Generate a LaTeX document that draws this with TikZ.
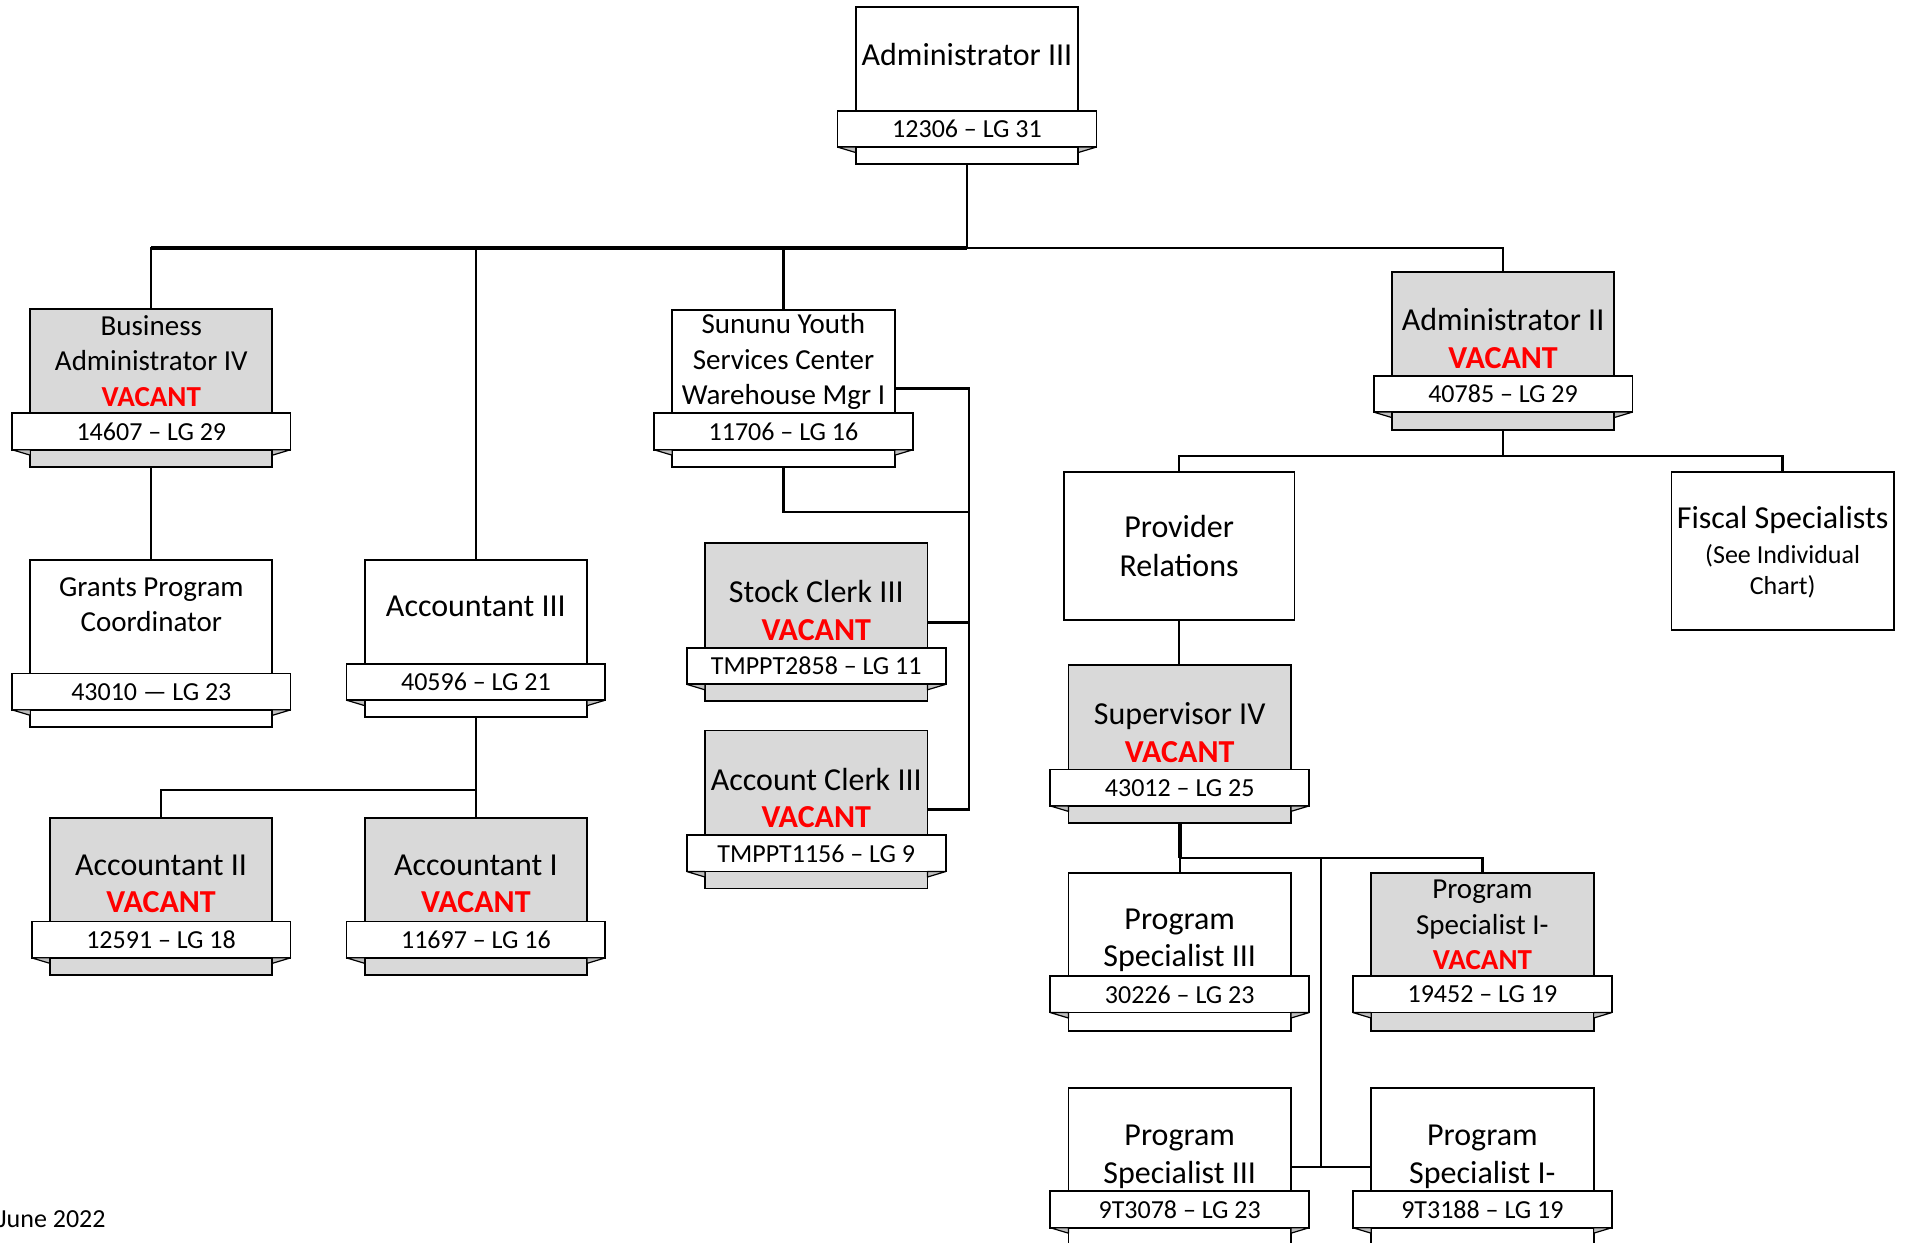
\documentclass[tikz,border=0pt]{standalone}
\usepackage{fontspec}
\setmainfont{Carlito}
\definecolor{boxgray}{HTML}{D9D9D9}
\definecolor{foldgray}{HTML}{BFBFBF}
\definecolor{vacred}{HTML}{FF0000}
\tikzset{
 orgrect/.style={draw=black, line width=1.8pt, inner sep=0pt, outer sep=0pt},
 ribbonbox/.style={draw=black, line width=1.8pt, fill=white, inner sep=0pt, outer sep=0pt, font=\fontsize{26}{31}\selectfont},
 foldtri/.style={draw=black, line width=1.2pt, fill=foldgray, line join=round},
 conn/.style={draw=black, line width=2.3pt},
 busconn/.style={draw=black, line width=3.6pt},
 ttl/.style={align=center, inner sep=0pt, font=\fontsize{32}{37.7}\selectfont},
 ttlsm/.style={align=center, inner sep=0pt, font=\fontsize{29}{35.3}\selectfont},
 smalltxt/.style={align=center, inner sep=0pt, font=\fontsize{26}{31.6}\selectfont},
}
\newcommand\vac{\textcolor{vacred}{\bfseries VACANT}}
\newcommand\OrgBox[8]{%
 \pgfmathsetmacro\obw{(#4-#2)*1.2156}%
 \pgfmathsetmacro\obh{(#5-#3)*1.2156}%
 \pgfmathsetmacro\orw{(#4-#2+30)*1.2156}%
 \node[orgrect, fill=#6, minimum width=\obw pt, minimum height=\obh pt] (#1) at ({(#2+#4)/2},{(#3+#5)/2}) {};
 \node[ribbonbox, minimum width=\orw pt, minimum height=36.47pt] (#1-r) at ({(#2+#4)/2},{#7+15}) {#8};
 \filldraw[foldtri] (#1-r.south west) -- (#1-r.south west -| #1.west) -- ++(0,4.5) -- cycle;
 \filldraw[foldtri] (#1-r.south east) -- (#1-r.south east -| #1.east) -- ++(0,4.5) -- cycle;
}
\begin{document}
\begin{tikzpicture}[x=1.2156pt,y=-1.2156pt]
\useasboundingbox (0,0) rectangle (1568,1022);
\clip (0,0) rectangle (1568,1022);
\fill[white] (0,0) rectangle (1568,1022);

% ---- boxes ----
\OrgBox{a3}{704}{6}{887}{135}{white}{91}{12306 – LG 31}
\node[ttl] (a3-t) at (795.5,45) {Administrator III};

\OrgBox{ba4}{25}{254}{224}{384}{boxgray}{340}{14607 – LG 29}
\node[ttlsm] (ba4-t) at (124.5,297) {Business\\Administrator IV\\\vac};

\OrgBox{gpc}{25}{461}{224}{598}{white}{554}{43010 — LG 23}
\node[ttlsm] (gpc-t) at (124.5,497.5) {Grants Program\\Coordinator};

\OrgBox{acc3}{300}{461}{483}{590}{white}{546}{40596 – LG 21}
\node[ttl] (acc3-t) at (391.5,499) {Accountant III};

\OrgBox{acc2}{41}{673}{224}{802}{boxgray}{758}{12591 – LG 18}
\node[ttl] (acc2-t) at (132.5,727) {Accountant II\\\vac};

\OrgBox{acc1}{300}{673}{483}{802}{boxgray}{758}{11697 – LG 16}
\node[ttl] (acc1-t) at (391.5,727) {Accountant I\\\vac};

\OrgBox{syc}{553}{255}{736}{384}{white}{340}{11706 – LG 16}
\node[ttlsm] (syc-t) at (644.5,297.5) {Sununu Youth\\Services Center\\Warehouse Mgr I};

\OrgBox{sk3}{580}{447}{763}{577}{boxgray}{533}{TMPPT2858 – LG 11}
\node[ttl] (sk3-t) at (671.5,502.5) {Stock Clerk III\\\vac};

\OrgBox{ac3}{580}{601}{763}{731}{boxgray}{687}{TMPPT1156 – LG 9}
\node[ttl] (ac3-t) at (671.5,656.5) {Account Clerk III\\\vac};

\OrgBox{a2}{1145}{224}{1328}{354}{boxgray}{309}{40785 – LG 29}
\node[ttl] (a2-t) at (1236.5,278.5) {Administrator II\\\vac};

\node[orgrect, fill=white, minimum width=230.96pt, minimum height=148.3pt, align=center, font=\fontsize{32}{38.9}\selectfont] (pr) at (970,449) {Provider\\Relations};

\node[orgrect, fill=white, minimum width=222.45pt, minimum height=158.03pt] (fs) at (1466.5,453) {};
\node[ttl] (fs-t1) at (1466.5,428) {Fiscal Specialists};
\node[smalltxt] (fs-t2) at (1466.5,470) {(See Individual\\Chart)};

\OrgBox{sv4}{879}{547}{1062}{677}{boxgray}{633}{43012 – LG 25}
\node[ttl] (sv4-t) at (970.5,602.5) {Supervisor IV\\\vac};

\OrgBox{ps3a}{879}{718}{1062}{848}{white}{803}{30226 – LG 23}
\node[ttl] (ps3a-t) at (970.5,773.5) {Program\\Specialist III};

\OrgBox{ps1a}{1128}{718}{1311}{848}{boxgray}{803}{19452 – LG 19}
\node[ttlsm] (ps1a-t) at (1219.5,761) {Program\\Specialist I-\\\vac};

\OrgBox{ps3b}{879}{895}{1062}{1025}{white}{980}{9T3078 – LG 23}
\node[ttl] (ps3b-t) at (970.5,951.5) {Program\\Specialist III};

\OrgBox{ps1b}{1128}{895}{1311}{1025}{white}{980}{9T3188 – LG 19}
\node[ttl] (ps1b-t) at (1219.5,951.5) {Program\\Specialist I-};

\node[inner sep=0pt, anchor=east, font=\fontsize{26}{31}\selectfont] (date) at (87,1003) {June 2022};

% ---- connectors ----
\coordinate (bus) at (795.5,204);
\draw[conn] (a3.south) -- (bus);
\draw[conn] (ba4.north) |- (bus) -- (a2.north |- bus) -- (a2.north);
\draw[busconn] (ba4.north |- bus) -- (bus);
\draw[conn] (acc3.north) -- (acc3.north |- bus);
\draw[conn] (syc.north) -- (syc.north |- bus);
\draw[conn] (ba4.south) -- (gpc.north);

\coordinate (j1) at (391.5,650);
\draw[conn] (acc3.south) -- (acc1.north);
\draw[conn] (acc2.north) |- (j1);

\coordinate (sv) at (797,666);
\coordinate (sj) at (797,421);
\draw[conn] (syc.east) -| (sv) -- (ac3.east);
\draw[conn] (sk3.east) -- (sk3.east -| sv);
\draw[conn] (syc.south) |- (sj);

\coordinate (j2) at (1236.5,375);
\draw[conn] (a2.south) -- (j2);
\draw[conn] (pr.north) |- (j2) -| (fs.north);
\draw[conn] (pr.south) -- (pr.south |- sv4.north);

\coordinate (j3) at (970.5,706);
\draw[busconn] (sv4.south) -- (j3);
\draw[conn] (ps3a.north) -- (j3) -| (ps1a.north);
\coordinate (j4) at (1087,706);
\draw[conn] (j4) -- (j4 |- ps3b.east);
\draw[conn] (ps3b.east) -- (ps1b.west);
\end{tikzpicture}
\end{document}
